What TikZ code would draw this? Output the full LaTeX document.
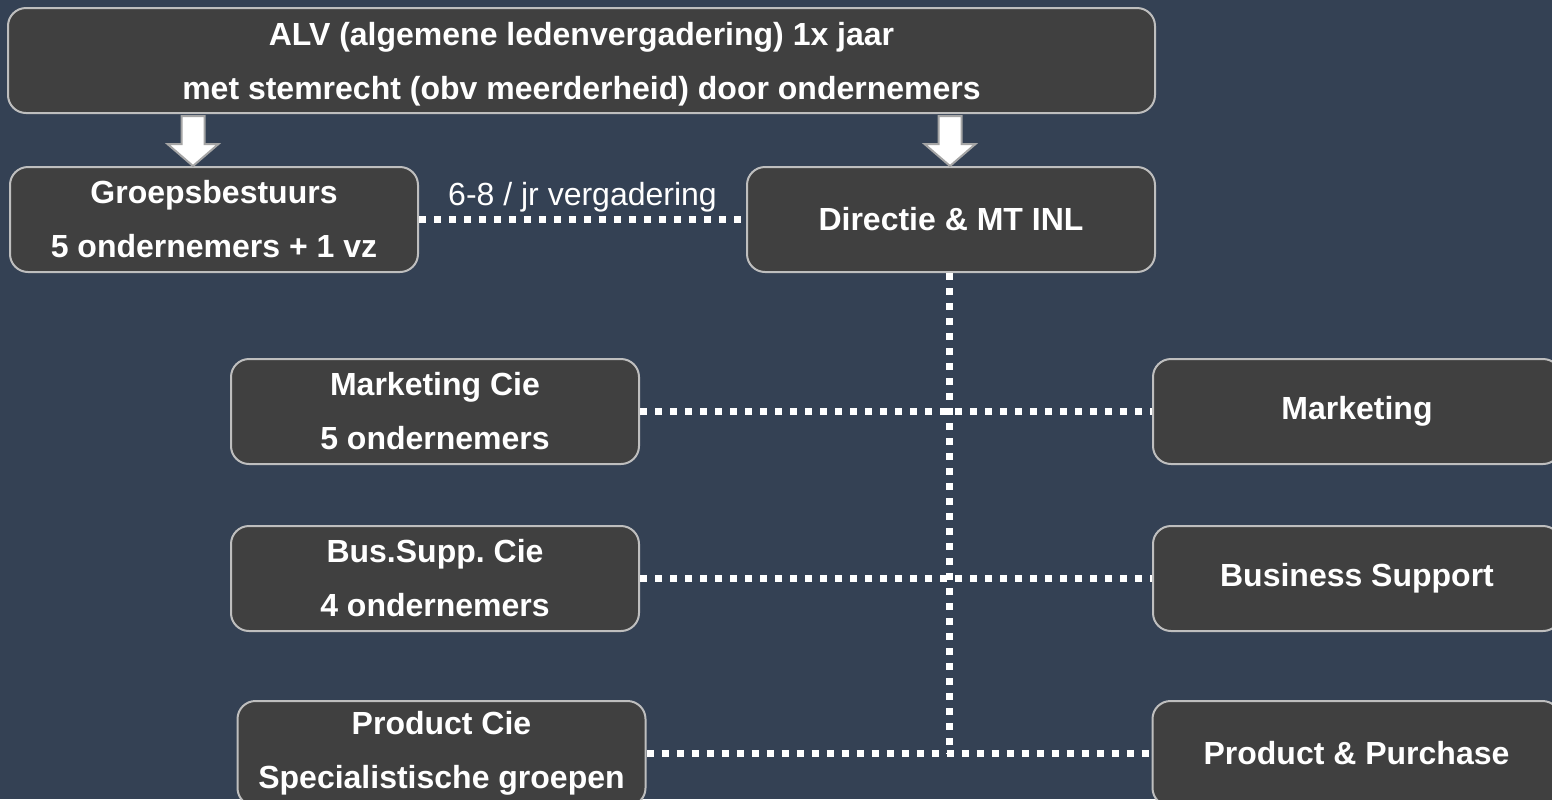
\documentclass[tikz,border=0pt]{standalone}
\usepackage{fontspec}
\setmainfont{Liberation Sans}
\frenchspacing
\usetikzlibrary{positioning,calc}
\definecolor{bgblue}{RGB}{52,65,84}
\definecolor{boxgrey}{RGB}{64,64,64}
\definecolor{rimgrey}{RGB}{190,190,190}
\definecolor{arrowrim}{RGB}{165,165,165}
\begin{document}
\begin{tikzpicture}[
		box/.style={draw=rimgrey,line width=1pt,fill=boxgrey,rounded corners=9pt,text=white,align=center,
			font=\bfseries\fontsize{16}{27}\selectfont,minimum width=204pt,minimum height=52.5pt,inner sep=2pt},
		link/.style={draw=white,line width=3.5pt,dash pattern=on 3.5pt off 4pt},
		fatarrow/.style={fill=white,draw=arrowrim,line width=1pt,line join=miter},
		lbl/.style={text=white,inner sep=1pt,font=\fontsize{16}{19}\selectfont}
		]
		% background
		\fill[bgblue] (0,0) rectangle (776pt,-399.5pt);
		\useasboundingbox (0,0) rectangle (776pt,-399.5pt);
		
		\node[box,minimum width=573.5pt,text depth=0pt] at (290.75pt,-30.25pt) (alv) {ALV (algemene ledenvergadering) 1x jaar\\met stemrecht (obv meerderheid) door ondernemers};
		\node[box,below right=26pt and 1pt of alv.south west] (grp) {Groepsbestuurs\\5 ondernemers + 1 vz};
		\node[box,right=163.5pt of grp] (dir) {Directie \& MT INL};
		\node[box,below right=42.5pt and 110.5pt of grp.south west] (mcie) {Marketing Cie\\5 ondernemers};
		\node[box,right=256pt of mcie] (mkt) {Marketing};
		\node[box,below=30pt of mcie] (bcie) {Bus.Supp. Cie\\4 ondernemers};
		\node[box,right=256pt of bcie] (bsup) {Business Support};
		\node[box,below=34pt of bcie,xshift=3.25pt] (pcie) {Product Cie\\Specialistische groepen};
		\node[box,right=252.5pt of pcie] (ppur) {Product \& Purchase};
		
		% block arrows from the ALV
		\coordinate (grptip) at ([xshift=-10.5pt]grp.north);
		\coordinate (dirtip) at ([xshift=-0.5pt]dir.north);
		\foreach \tip in {grptip,dirtip}
		\draw[fatarrow,shift={(\tip)}] (0,0) -- (12.75pt,11pt) -- (5.75pt,11pt) -- (5.75pt,25pt)
			-- (-5.75pt,25pt) -- (-5.75pt,11pt) -- (-12.75pt,11pt) -- cycle;
		
		% dotted lines
		\draw[link] (grp.east) -- node[lbl,above=0.75pt] {6-8 / jr vergadering} (grp.east -| dir.west);
		\draw[link] ([xshift=-1pt]dir.south) -- ([xshift=-1pt]dir.south |- pcie.east);
		\draw[link] (mcie.east) -- (mcie.east -| mkt.west);
		\draw[link] (bcie.east) -- (bcie.east -| bsup.west);
		\draw[link] (pcie.east) -- (pcie.east -| ppur.west);
	\end{tikzpicture}
\end{document}
